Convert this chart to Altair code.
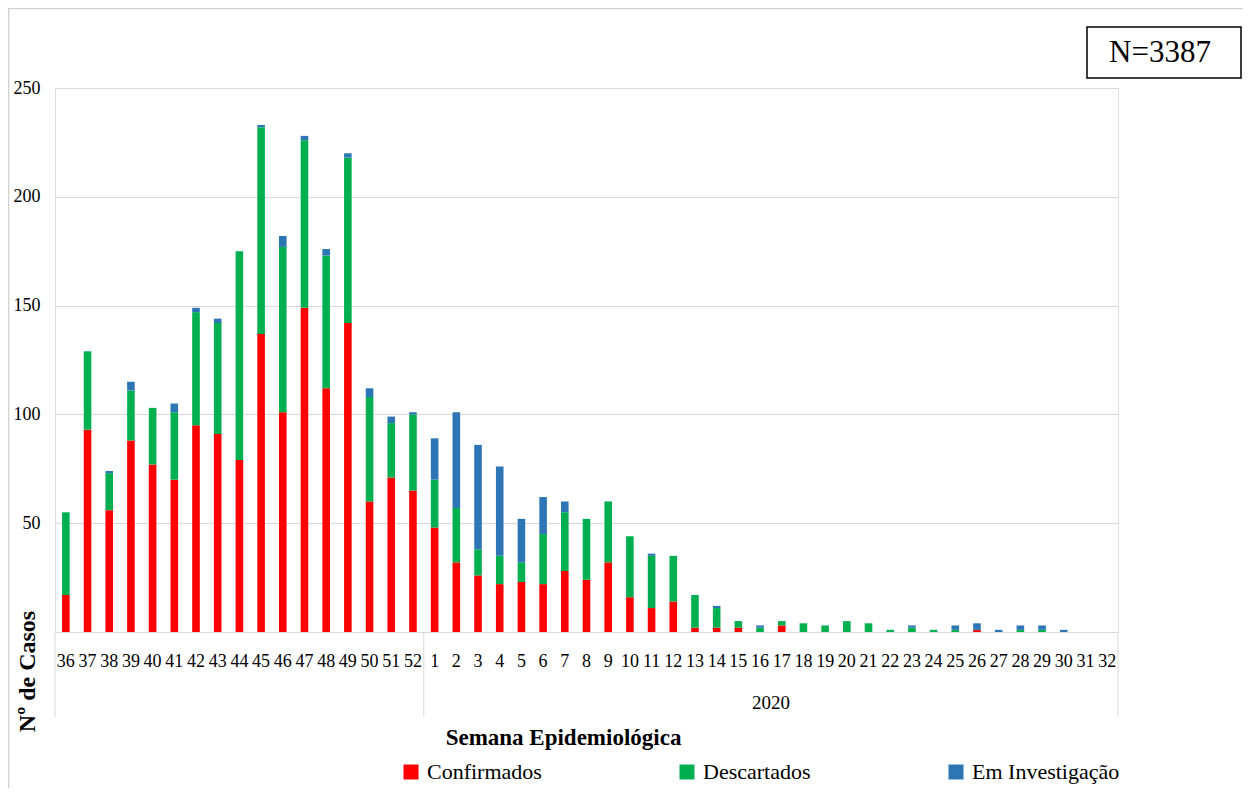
import altair as alt
import pandas as pd

# ---- data ----
weeks = [str(w) for w in range(36, 53)] + [str(w) for w in range(1, 33)]

confirmados = [17, 93, 56, 88, 77, 70, 95, 91, 79, 137, 101, 149, 112, 142, 60, 71, 65,
               48, 32, 26, 22, 23, 22, 28, 24, 32, 16, 11, 14, 2, 2, 2, 0,
               3, 0, 0, 0, 0, 0, 0, 0, 0, 1, 0, 0, 0, 0, 0, 0]
descartados = [38, 36, 17, 23, 26, 31, 52, 51, 96, 95, 76, 77, 61, 76, 48, 25, 35,
               22, 25, 12, 13, 9, 23, 27, 28, 28, 28, 24, 21, 15, 9, 3, 2,
               2, 4, 3, 5, 4, 1, 2, 1, 1, 0, 0, 1, 1, 0, 0, 0]
investigacao = [0, 0, 1, 4, 0, 4, 2, 2, 0, 1, 5, 2, 3, 2, 4, 3, 1,
                19, 44, 48, 41, 20, 17, 5, 0, 0, 0, 1, 0, 0, 1, 0, 1,
                0, 0, 0, 0, 0, 0, 1, 0, 2, 3, 1, 2, 2, 1, 0, 0]

series_names = ["Confirmados", "Descartados", "Em Investigação"]
series_colors = ["#FF0000", "#00B050", "#2E75B6"]
year_label = "2020"
year_center_week = "16"
n_total = 3387

x_title = "Semana Epidemiológica"
y_title = "Nº de Casos"
y_ticks = [0, 50, 100, 150, 200, 250]

FONT = "Liberation Serif"

rows = []
for i, w in enumerate(weeks):
    for k, (name, vals) in enumerate(zip(series_names, [confirmados, descartados, investigacao])):
        rows.append({"week": w, "status": name, "value": vals[i], "ord": k})
df = pd.DataFrame(rows)

W, H = 1063, 544
PAD_B = 156

x_enc = alt.X(
    "week:O",
    sort=weeks,
    scale=alt.Scale(paddingInner=0, paddingOuter=0),
    axis=alt.Axis(
        title=x_title,
        labelAngle=0,
        ticks=False,
        labelOverlap=False,
        domainColor="#d9d9d9",
        labelFont=FONT,
        labelFontSize=18,
        labelColor="black",
        labelPadding=20,
        titleFont=FONT,
        titleFontSize=23,
        titleFontWeight="bold",
        titleColor="black",
        titleX=508,
        titleY=105,
        titleBaseline="middle",
        titleAlign="center",
    ),
)

bars = alt.Chart(df).mark_bar(width=alt.RelativeBandSize(0.35)).encode(
    x=x_enc,
    y=alt.Y(
        "value:Q",
        stack="zero",
        scale=alt.Scale(domain=[0, 250], nice=False),
        axis=alt.Axis(
            values=y_ticks,
            title=y_title,
            grid=True,
            gridColor="#d9d9d9",
            domain=False,
            ticks=False,
            labelPadding=15,
            labelFont=FONT,
            labelFontSize=18,
            labelColor="black",
            labelExpr="datum.value == 0 ? '' : datum.label",
            titleFont=FONT,
            titleFontSize=24,
            titleFontWeight="bold",
            titleColor="black",
            titleAngle=270,
            titleX=-28,
            titleY=583,
            titleBaseline="middle",
            titleAlign="center",
        ),
    ),
    color=alt.Color(
        "status:N",
        scale=alt.Scale(domain=series_names, range=series_colors),
        legend=alt.Legend(
            orient="none",
            legendX=345,
            legendY=673,
            direction="horizontal",
            columns=3,
            columnPadding=134,
            title=None,
            symbolType="square",
            symbolSize=225,
            symbolStrokeWidth=0,
            labelFont=FONT,
            labelFontSize=22,
            labelColor="black",
            labelOffset=5,
            labelLimit=400,
        ),
    ),
    order=alt.Order("ord:Q", sort="ascending"),
)

sep_left = alt.Chart(pd.DataFrame({"week": [weeks[0], "1"]})).mark_rule(color="#d9d9d9").encode(
    x=alt.X("week:O", sort=weeks, bandPosition=0),
    y=alt.value(H),
    y2=alt.value(H + 85),
)
sep_right = alt.Chart(pd.DataFrame({"week": [weeks[-1]]})).mark_rule(color="#d9d9d9").encode(
    x=alt.X("week:O", sort=weeks, bandPosition=1),
    y=alt.value(H),
    y2=alt.value(H + 85),
)
year_txt = alt.Chart(pd.DataFrame({"week": [year_center_week], "label": [year_label]})).mark_text(
    font=FONT, fontSize=19, color="black", align="center", baseline="middle"
).encode(
    x=alt.X("week:O", sort=weeks, bandPosition=1),
    y=alt.value(H + 71),
    text="label:N",
)

one = pd.DataFrame({"a": [0]})
border_left = alt.Chart(one).mark_rule(color="#d0d0d0", strokeWidth=1.5).encode(
    x=alt.value(-46.5), y=alt.value(-80), y2=alt.value(H + PAD_B)
)
border_top = alt.Chart(one).mark_rule(color="#d0d0d0", strokeWidth=1.5).encode(
    x=alt.value(-47), x2=alt.value(W + 125), y=alt.value(-79.5)
)
nbox = alt.Chart(one).mark_rect(fill="white", stroke="black", strokeWidth=1.5).encode(
    x=alt.value(1032), x2=alt.value(1186), y=alt.value(-61), y2=alt.value(-10)
)
ntext = alt.Chart(pd.DataFrame({"t": [f"N={n_total}"]})).mark_text(
    font=FONT, fontSize=31, color="black", align="center", baseline="middle"
).encode(x=alt.value(1105), y=alt.value(-35), text="t:N")

chart = alt.layer(
    bars, sep_left, sep_right, year_txt, border_left, border_top, nbox, ntext
).properties(
    width=W,
    height=H,
    autosize=alt.AutoSizeParams(type="none"),
    padding={"left": 47, "top": 80, "right": 125, "bottom": PAD_B},
    background="white",
).configure_view(stroke=None).configure(font=FONT).configure_legend(
    labelFont=FONT, labelFontSize=22, labelColor="black"
)

chart.save("out.html", embed_options={"renderer": "svg", "actions": False})
